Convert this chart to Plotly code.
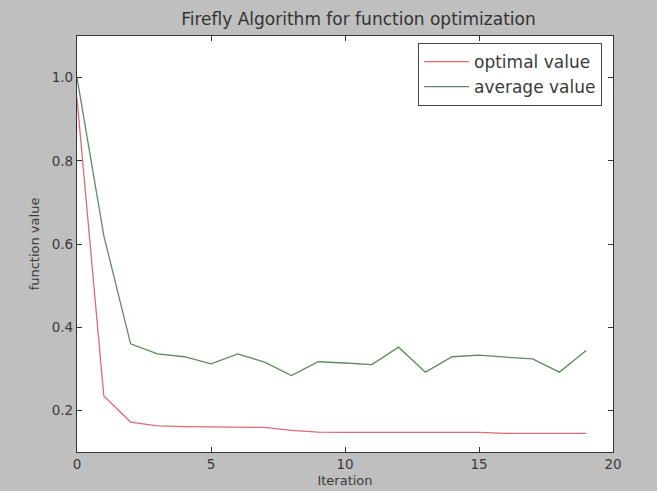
import plotly.graph_objects as go

iterations = list(range(20))
optimal_value = [0.95, 0.235, 0.172, 0.163, 0.161, 0.160, 0.160, 0.159, 0.152, 0.148,
                 0.147, 0.147, 0.147, 0.147, 0.147, 0.147, 0.145, 0.145, 0.145, 0.145]
average_value = [1.0, 0.62, 0.360, 0.336, 0.329, 0.312, 0.336, 0.316, 0.284, 0.317,
                 0.314, 0.310, 0.352, 0.292, 0.329, 0.333, 0.328, 0.324, 0.292, 0.344]

title_text = "Firefly Algorithm for function optimization"
x_label = "Iteration"
y_label = "function value"
x_ticks = [0, 5, 10, 15, 20]
y_ticks = [0.2, 0.4, 0.6, 0.8, 1.0]

FONT = "DejaVu Sans"

fig = go.Figure()
fig.add_trace(go.Scatter(x=iterations, y=optimal_value, mode="lines", name="optimal value",
                         line=dict(color="#e06a78", width=1.3)))
fig.add_trace(go.Scatter(x=iterations, y=average_value, mode="lines", name="average value",
                         line=dict(color="#5e8c5e", width=1.3)))

axis_common = dict(showgrid=False, zeroline=False, showline=True, linecolor="#333333",
                   linewidth=1.2, mirror="ticks", ticks="inside", ticklen=5,
                   tickcolor="#333333", automargin=False,
                   tickfont=dict(family=FONT, size=13.5, color="#3a3a3a"))

fig.update_layout(
    width=657, height=491,
    margin=dict(l=77, r=44, t=36, b=39),
    paper_bgcolor="#bfbfbf", plot_bgcolor="#ffffff",
    font=dict(family=FONT, color="#333333"),
    title=dict(text=title_text, x=(77 + 613) / 2 / 657, xref="paper", xanchor="center",
               y=1 - 19 / 491, yanchor="middle",
               font=dict(family=FONT, size=17, color="#333333")),
    xaxis=dict(range=[0, 20], tickvals=x_ticks,
               title=dict(text=x_label, font=dict(family=FONT, size=13, color="#3a3a3a"), standoff=4),
               **axis_common),
    yaxis=dict(range=[0.1, 1.1], tickvals=y_ticks, tickformat=".1f",
               title=dict(text=y_label, font=dict(family=FONT, size=13, color="#3a3a3a"), standoff=9),
               **axis_common),
    legend=dict(x=(418 - 77) / 536, y=(452 - 43) / 416, xanchor="left", yanchor="top",
                bgcolor="#ffffff", bordercolor="#444444", borderwidth=1,
                font=dict(family=FONT, size=17, color="#3a3a3a"), itemwidth=45,
                tracegroupgap=0),
    showlegend=True,
)

fig.write_html("out.html")
